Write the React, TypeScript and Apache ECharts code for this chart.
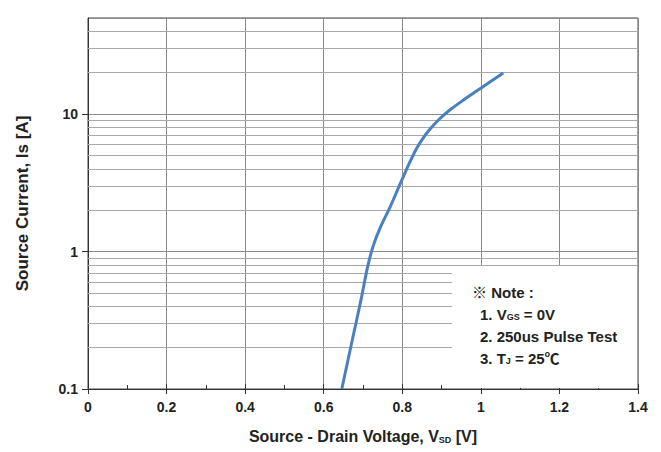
import React, { useEffect, useRef } from "react";
import * as echarts from "echarts";

const voltage = [0.646, 0.670, 0.695, 0.712, 0.726, 0.742, 0.770, 0.792, 0.805, 0.820, 0.836, 0.850, 0.866, 0.892, 0.921, 0.955, 0.998, 1.057];
const current = [0.1, 0.209, 0.447, 0.78, 1.1, 1.45, 2.14, 2.99, 3.63, 4.52, 5.6, 6.5, 7.5, 9.06, 10.7, 12.6, 15.3, 19.9];
const minorGridValues = [0.2, 0.3, 0.4, 0.5, 0.6, 0.7, 0.8, 0.9, 2, 3, 4, 5, 6, 7, 8, 9, 20, 30, 40];
const xRange = [0, 1.4];
const yRange = [0.1, 50];
const noteLines = [
  "※ Note :",
  "1. V{sub|GS} = 0V",
  "2. 250us Pulse Test",
  "3. T{sub|J} = 25℃",
];

const FONT = "'Liberation Sans', Arial, 'Noto Sans CJK SC', sans-serif";

export default function App() {
  const ref = useRef<HTMLDivElement>(null);
  useEffect(() => {
    if (!ref.current) return;
    const chart = echarts.init(ref.current, undefined, { renderer: "svg" });
    const sub = { fontSize: 9, fontWeight: "bold", fontFamily: FONT, verticalAlign: "bottom", padding: [6, 0, 0, 0] };
    chart.setOption({
      animation: false,
      backgroundColor: "#ffffff",
      grid: { left: 88, right: 23, top: 18, bottom: 63, show: true, borderColor: "#444", borderWidth: 1 },
      xAxis: [
        {
          type: "value",
          min: xRange[0],
          max: xRange[1],
          interval: 0.2,
          axisLine: { lineStyle: { color: "#333", width: 1 } },
          axisTick: { show: true, inside: false, length: 5, lineStyle: { color: "#333" } },
          axisLabel: { color: "#222", fontFamily: FONT, fontWeight: "bold", fontSize: 14, margin: 11 },
          splitLine: { show: true, lineStyle: { color: "#8a8a8a", width: 1 } },
          name: "Source - Drain Voltage, V{sub|SD} [V]",
          nameLocation: "middle",
          nameGap: 39,
          nameTextStyle: { color: "#222", fontFamily: FONT, fontWeight: "bold", fontSize: 16, rich: { sub: { ...sub, fontSize: 9 } } },
        },
        {
          type: "value",
          position: "bottom",
          min: xRange[0],
          max: xRange[1],
          interval: 0.2,
          axisLine: { show: false },
          axisTick: { show: true, inside: true, length: 5, lineStyle: { color: "#333" } },
          minorTick: { show: true, splitNumber: 2, length: 4, lineStyle: { color: "#333" } },
          axisLabel: { show: false },
          splitLine: { show: false },
        },
      ],
      yAxis: [
        {
          type: "log",
          logBase: 10,
          min: yRange[0],
          max: yRange[1],
          axisLine: { show: true, lineStyle: { color: "#333", width: 1 } },
          axisTick: { show: true, inside: false, length: 6, lineStyle: { color: "#333" } },
          axisLabel: {
            color: "#222",
            fontFamily: FONT,
            fontWeight: "bold",
            fontSize: 14,
            margin: 10,
            showMaxLabel: false,
            formatter: (v: number) => (v < 1 ? String(Math.round(v * 10) / 10) : String(Math.round(v))),
          },
          splitLine: { show: true, lineStyle: { color: "#8a8a8a", width: 1 } },
          name: "Source Current, Is [A]",
          nameLocation: "middle",
          nameGap: 57,
          nameTextStyle: { color: "#222", fontFamily: FONT, fontWeight: "bold", fontSize: 17 },
        },
      ],
      series: [
        {
          type: "line",
          data: [],
          z: 1,
          silent: true,
          markLine: {
            silent: true,
            symbol: "none",
            label: { show: false },
            lineStyle: { color: "#a8a8a8", width: 1, type: "solid" },
            data: minorGridValues.map((v) => ({ yAxis: v })),
          },
        },
        {
          type: "line",
          z: 5,
          data: voltage.map((v, i) => [v, current[i]]),
          showSymbol: false,
          smooth: 0.35,
          lineStyle: { color: "#4a7fc1", width: 3 },
        },
      ],
      graphic: [
        {
          type: "rect",
          z: 100,
          shape: { x: 452, y: 266, width: 185, height: 122 },
          style: { fill: "#ffffff", stroke: "none" },
        },
        ...noteLines.map((t, i) => ({
          type: "text",
          z: 101,
          x: i === 0 ? 472 : 480,
          y: 292 + i * 22,
          style: {
            text: t,
            fill: "#222",
            font: `bold 15px ${FONT}`,
            verticalAlign: "middle",
            rich: { sub },
          },
        })),
      ],
    });
    return () => chart.dispose();
  }, []);
  return <div ref={ref} style={{ position: "fixed", left: 0, top: 0, width: 661, height: 452 }} />;
}
